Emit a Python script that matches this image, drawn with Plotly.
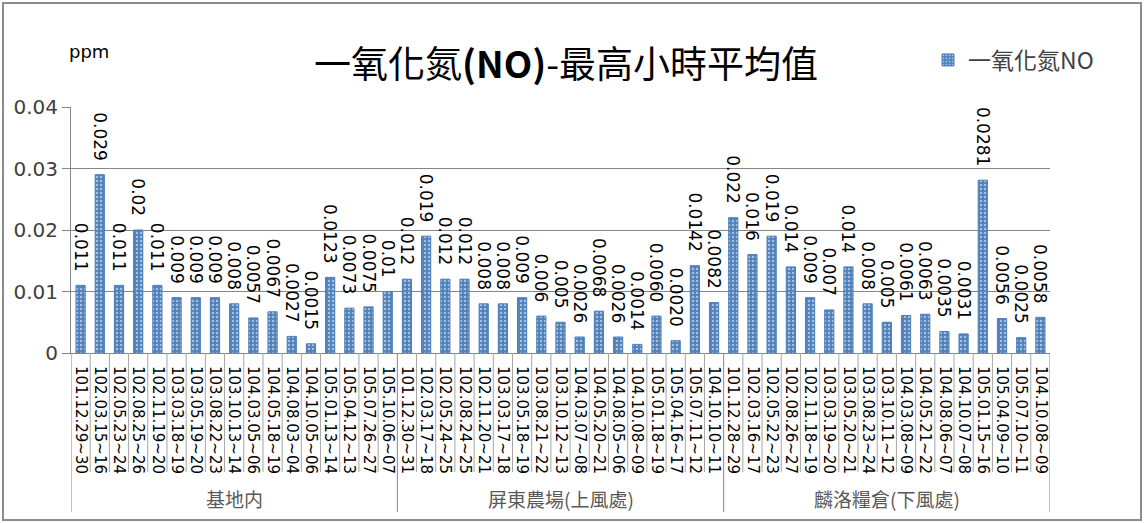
import plotly.graph_objects as go

# ---------------- data ----------------
groups = ["基地内", "屏東農場(上風處)", "麟洛糧倉(下風處)"]

dates_g1 = ["101.12.29~30", "102.03.15~16", "102.05.23~24", "102.08.25~26", "102.11.19~20",
            "103.03.18~19", "103.05.19~20", "103.08.22~23", "103.10.13~14", "104.03.05~06",
            "104.05.18~19", "104.08.03~04", "104.10.05~06", "105.01.13~14", "105.04.12~13",
            "105.07.26~27", "105.10.06~07"]
values_g1 = ["0.011", "0.029", "0.011", "0.02", "0.011", "0.009", "0.009", "0.009", "0.008",
             "0.0057", "0.0067", "0.0027", "0.0015", "0.0123", "0.0073", "0.0075", "0.01"]

dates_g2 = ["101.12.30~31", "102.03.17~18", "102.05.24~25", "102.08.24~25", "102.11.20~21",
            "103.03.17~18", "103.05.18~19", "103.08.21~22", "103.10.12~13", "104.03.07~08",
            "104.05.20~21", "104.08.05~06", "104.10.08~09", "105.01.18~19", "105.04.16~17",
            "105.07.11~12", "104.10.10~11"]
values_g2 = ["0.012", "0.019", "0.012", "0.012", "0.008", "0.008", "0.009", "0.006", "0.005",
             "0.0026", "0.0068", "0.0026", "0.0014", "0.0060", "0.0020", "0.0142", "0.0082"]

dates_g3 = ["101.12.28~29", "102.03.16~17", "102.05.22~23", "102.08.26~27", "102.11.18~19",
            "103.03.19~20", "103.05.20~21", "103.08.23~24", "103.10.11~12", "104.03.08~09",
            "104.05.21~22", "104.08.06~07", "104.10.07~08", "105.01.15~16", "105.04.09~10",
            "105.07.10~11", "104.10.08~09"]
values_g3 = ["0.022", "0.016", "0.019", "0.014", "0.009", "0.007", "0.014", "0.008", "0.005",
             "0.0061", "0.0063", "0.0035", "0.0031", "0.0281", "0.0056", "0.0025", "0.0058"]

series_name = "一氧化氮NO"
title_text = "一氧化氮<b>(NO)</b>-最高小時平均值"
unit_text = "ppm"
y_ticks = [0, 0.01, 0.02, 0.03, 0.04]
y_ticktext = ["0", "0.01", "0.02", "0.03", "0.04"]

# ---------------- build ----------------
all_dates = dates_g1 + dates_g2 + dates_g3
all_vals_str = values_g1 + values_g2 + values_g3
all_vals = [float(v) for v in all_vals_str]
group_sizes = [len(dates_g1), len(dates_g2), len(dates_g3)]
xs = list(range(len(all_dates)))

W, H = 1144, 523
L, R, T, B = 71, 94, 107, 170
pw = W - L - R
ph = H - T - B

gray = "#868686"
font_main = "DejaVu Sans"
cjk = "Noto Sans CJK TC, DejaVu Sans"

fig = go.Figure()
fig.add_trace(go.Bar(
    x=xs, y=all_vals, name=series_name,
    width=0.48,
    marker=dict(
        color="#4F81BD",
        line=dict(color="#4A7EBB", width=1),
        pattern=dict(shape=".", fgcolor="#FFFFFF", bgcolor="#4F81BD", size=4, solidity=0.3),
    ),
    text=[v + "\u00a0\u00a0" for v in all_vals_str],
    textposition="outside",
    textangle=90,
    textfont=dict(family=font_main, size=17, color="#000000"),
    cliponaxis=False,
    constraintext="none",
))

shapes = []
n = len(xs)
group_bounds = [0]
for s in group_sizes:
    group_bounds.append(group_bounds[-1] + s)
for i in range(n + 1):
    is_group = i in group_bounds
    y1 = -(512 - 353) / ph if is_group else -(472 - 353) / ph
    shapes.append(dict(type="line", xref="x", yref="paper", x0=i - 0.5, x1=i - 0.5,
                       y0=0, y1=y1, line=dict(color="#A6A6A6" if not is_group else gray, width=1)))
# outer chart border
shapes.append(dict(type="rect", xref="paper", yref="paper",
                   x0=(3 - L) / pw, x1=(1141 - L) / pw,
                   y0=-(520 - T - ph) / ph, y1=1 + (T - 3) / ph,
                   line=dict(color="#8C8C8C", width=2), fillcolor="rgba(0,0,0,0)", layer="below"))

annotations = []
for gi, g in enumerate(groups):
    cx = (group_bounds[gi] + group_bounds[gi + 1] - 1) / 2
    annotations.append(dict(x=cx, xref="x", y=-(498 - 353) / ph, yref="paper",
                            text=g, showarrow=False, xanchor="center", yanchor="middle",
                            font=dict(family=cjk, size=19, color="#595959")))
annotations.append(dict(x=(566 - L) / pw, xref="paper", y=1 + (T - 62) / ph, yref="paper",
                        text=title_text, showarrow=False, xanchor="center", yanchor="middle",
                        font=dict(family=cjk, size=37, color="#000000")))
annotations.append(dict(x=(67 - L) / pw, xref="paper", y=1 + (T - 51) / ph, yref="paper",
                        text=unit_text, showarrow=False, xanchor="left", yanchor="middle",
                        font=dict(family=font_main, size=18, color="#000000")))

fig.update_layout(
    width=W, height=H,
    margin=dict(l=L, r=R, t=T, b=B, pad=0),
    paper_bgcolor="white", plot_bgcolor="white",
    showlegend=True,
    legend=dict(x=(928 - L) / pw, y=1 + (T - 60) / ph, xanchor="left", yanchor="middle",
                font=dict(family=cjk, size=23, color="#404040"), bgcolor="rgba(0,0,0,0)",
                itemwidth=30),
    shapes=shapes,
    annotations=annotations,
    bargap=0.5,
)
fig.update_xaxes(
    range=[-0.5, n - 0.5], tickmode="array", tickvals=xs, ticktext=all_dates,
    tickangle=90, tickfont=dict(family=font_main, size=15, color="#000000"),
    showline=True, linecolor=gray, linewidth=1, showgrid=False, zeroline=False,
    ticks="", ticklabelstandoff=9, fixedrange=True,
)
fig.update_yaxes(
    range=[0, 0.04], tickmode="array", tickvals=y_ticks, ticktext=y_ticktext,
    tickfont=dict(family=font_main, size=20, color="#404040"),
    showline=True, linecolor=gray, linewidth=1, showgrid=True, gridcolor=gray, gridwidth=1,
    zeroline=False, ticks="outside", ticklen=8, tickcolor=gray,
)

fig.write_html("out.html", config={"displayModeBar": False},
               post_script="document.body.style.margin='0';")
